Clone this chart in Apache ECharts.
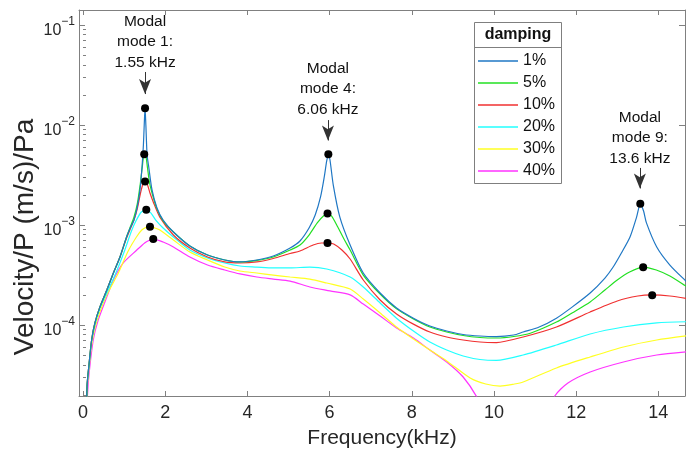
<!DOCTYPE html>
<html>
<head>
<meta charset="utf-8">
<script src="https://cdn.jsdelivr.net/npm/echarts@6/dist/echarts.min.js"></script>
<style>html,body{margin:0;padding:0;background:#fff}#c{width:686px;height:456px}</style>
</head>
<body>
<div id="c"></div>
<script>
// ---------- tick labels / categories ----------
const freqTicks = [0, 2, 4, 6, 8, 10, 12, 14];
const yMajorTicks = [1e-4, 1e-3, 1e-2, 1e-1];
const yMinorTicks = [2e-5,3e-5,4e-5,5e-5,6e-5,7e-5,8e-5,9e-5,
  2e-4,3e-4,4e-4,5e-4,6e-4,7e-4,8e-4,9e-4,
  2e-3,3e-3,4e-3,5e-3,6e-3,7e-3,8e-3,9e-3,
  2e-2,3e-2,4e-2,5e-2,6e-2,7e-2,8e-2,9e-2];
const seriesNames = ['1%', '5%', '10%', '20%', '30%', '40%'];
const seriesColors = ['#1f77c4', '#22e022', '#f03030', '#22ffff', '#ffff22', '#ff33ff'];

// ---------- series values: [frequency kHz, velocity/P] ----------
const damp1 = [[0.08,1.00e-5],[0.10,2.51e-5],[0.15,4.17e-5],[0.21,7.08e-5],[0.29,1.05e-4],[0.41,1.51e-4],[0.58,2.24e-4],[0.74,3.31e-4],[0.90,4.79e-4],[1.06,7.59e-4],[1.16,9.55e-4],[1.24,1.12e-3],[1.32,1.51e-3],[1.39,2.29e-3],[1.44,3.98e-3],[1.47,6.31e-3],[1.49,1.00e-2],[1.51,1.48e-2],[1.53,1.00e-2],[1.56,5.01e-3],[1.60,3.80e-3],[1.68,2.24e-3],[1.80,1.48e-3],[1.95,1.12e-3],[2.20,8.51e-4],[2.60,6.17e-4],[3.03,5.01e-4],[3.45,4.47e-4],[3.82,4.27e-4],[4.23,4.47e-4],[4.63,4.90e-4],[5.04,5.89e-4],[5.28,6.92e-4],[5.50,9.33e-4],[5.65,1.26e-3],[5.78,1.91e-3],[5.87,3.02e-3],[5.93,4.37e-3],[5.97,5.13e-3],[6.01,4.47e-3],[6.09,2.51e-3],[6.25,1.20e-3],[6.50,6.31e-4],[6.82,3.31e-4],[7.23,2.09e-4],[7.63,1.48e-4],[8.04,1.17e-4],[8.44,9.77e-5],[8.85,8.71e-5],[9.25,8.04e-5],[9.66,7.76e-5],[10.06,7.67e-5],[10.48,7.94e-5],[10.71,8.51e-5],[11.10,9.55e-5],[11.52,1.17e-4],[11.90,1.51e-4],[12.34,2.09e-4],[12.70,2.95e-4],[12.90,3.80e-4],[13.10,5.25e-4],[13.31,7.59e-4],[13.47,1.20e-3],[13.56,1.62e-3],[13.64,1.38e-3],[13.71,1.05e-3],[13.96,6.03e-4],[14.28,3.98e-4],[14.67,2.75e-4],[14.75,2.57e-4]];
const damp5 = [[0.08,1.00e-5],[0.10,2.51e-5],[0.15,4.17e-5],[0.21,7.08e-5],[0.29,1.05e-4],[0.41,1.51e-4],[0.58,2.24e-4],[0.74,3.31e-4],[0.90,4.79e-4],[1.06,7.59e-4],[1.16,9.77e-4],[1.24,1.20e-3],[1.32,1.62e-3],[1.39,2.51e-3],[1.44,3.72e-3],[1.49,5.13e-3],[1.53,4.90e-3],[1.57,3.72e-3],[1.62,2.63e-3],[1.68,2.09e-3],[1.80,1.45e-3],[1.95,1.10e-3],[2.20,8.51e-4],[2.60,6.17e-4],[3.03,5.01e-4],[3.45,4.47e-4],[3.82,4.27e-4],[4.23,4.42e-4],[4.63,4.79e-4],[5.04,5.62e-4],[5.28,6.31e-4],[5.50,7.94e-4],[5.70,1.05e-3],[5.85,1.23e-3],[5.95,1.29e-3],[6.05,1.23e-3],[6.20,9.55e-4],[6.35,7.24e-4],[6.50,5.62e-4],[6.82,3.16e-4],[7.23,2.04e-4],[7.63,1.45e-4],[8.04,1.15e-4],[8.44,9.55e-5],[8.85,8.51e-5],[9.25,7.85e-5],[9.66,7.50e-5],[10.06,7.41e-5],[10.48,7.67e-5],[10.90,8.32e-5],[11.52,1.07e-4],[11.90,1.32e-4],[12.34,1.70e-4],[12.70,2.24e-4],[13.00,2.82e-4],[13.30,3.39e-4],[13.63,3.80e-4],[13.95,3.55e-4],[14.28,3.09e-4],[14.67,2.45e-4],[14.75,2.34e-4]];
const damp10 = [[0.08,1.00e-5],[0.10,2.51e-5],[0.15,4.17e-5],[0.21,7.08e-5],[0.29,1.05e-4],[0.41,1.51e-4],[0.58,2.24e-4],[0.74,3.31e-4],[0.90,4.79e-4],[1.06,7.41e-4],[1.16,9.33e-4],[1.24,1.12e-3],[1.32,1.45e-3],[1.40,2.09e-3],[1.46,2.57e-3],[1.51,2.75e-3],[1.57,2.51e-3],[1.63,2.09e-3],[1.71,1.70e-3],[1.87,1.20e-3],[2.20,7.94e-4],[2.60,5.89e-4],[3.03,4.79e-4],[3.45,4.27e-4],[3.82,4.17e-4],[4.23,4.27e-4],[4.63,4.62e-4],[5.04,5.19e-4],[5.28,5.50e-4],[5.60,6.31e-4],[5.80,6.61e-4],[5.95,6.61e-4],[6.10,6.46e-4],[6.30,5.62e-4],[6.50,4.57e-4],[6.82,2.82e-4],[7.23,1.78e-4],[7.63,1.29e-4],[8.04,1.02e-4],[8.44,8.51e-5],[8.85,7.59e-5],[9.25,7.08e-5],[9.66,6.76e-5],[10.06,6.68e-5],[10.71,7.59e-5],[11.52,9.55e-5],[12.34,1.35e-4],[13.00,1.74e-4],[13.50,1.95e-4],[13.85,2.00e-4],[14.28,1.95e-4],[14.75,1.82e-4]];
const damp20 = [[0.08,1.00e-5],[0.10,2.40e-5],[0.15,3.98e-5],[0.21,6.76e-5],[0.29,1.00e-4],[0.41,1.45e-4],[0.58,2.09e-4],[0.80,3.31e-4],[1.00,5.37e-4],[1.18,8.71e-4],[1.30,1.12e-3],[1.42,1.35e-3],[1.54,1.41e-3],[1.65,1.32e-3],[1.77,1.12e-3],[1.95,9.33e-4],[2.20,7.59e-4],[2.60,5.62e-4],[3.03,4.68e-4],[3.45,4.17e-4],[3.82,3.89e-4],[4.23,3.80e-4],[4.63,3.72e-4],[5.04,3.72e-4],[5.52,3.80e-4],[5.93,3.63e-4],[6.50,3.02e-4],[6.82,2.40e-4],[7.23,1.66e-4],[7.63,1.17e-4],[8.04,8.71e-5],[8.44,6.76e-5],[8.85,5.62e-5],[9.25,4.90e-5],[9.66,4.52e-5],[10.06,4.42e-5],[10.71,5.01e-5],[11.52,6.31e-5],[12.34,8.13e-5],[13.15,9.55e-5],[13.96,1.05e-4],[14.75,1.08e-4]];
const damp30 = [[0.08,1.00e-5],[0.10,2.24e-5],[0.15,3.80e-5],[0.21,6.31e-5],[0.29,9.33e-5],[0.41,1.35e-4],[0.58,2.00e-4],[0.86,3.31e-4],[1.10,5.50e-4],[1.30,7.59e-4],[1.43,8.91e-4],[1.55,9.55e-4],[1.63,9.66e-4],[1.75,9.33e-4],[1.87,8.91e-4],[2.20,7.08e-4],[2.60,5.37e-4],[3.03,4.47e-4],[3.45,3.80e-4],[3.82,3.47e-4],[4.23,3.31e-4],[4.63,3.16e-4],[5.04,3.02e-4],[5.52,2.88e-4],[5.93,2.63e-4],[6.50,2.29e-4],[6.82,1.82e-4],[7.23,1.32e-4],[7.63,9.55e-5],[8.04,7.24e-5],[8.44,5.62e-5],[8.85,4.37e-5],[9.42,2.95e-5],[9.80,2.57e-5],[10.15,2.45e-5],[10.50,2.57e-5],[10.71,2.69e-5],[11.52,3.72e-5],[12.34,4.79e-5],[13.15,6.03e-5],[13.96,7.08e-5],[14.75,7.85e-5]];
const damp40 = [[0.09,1.00e-5],[0.11,2.00e-5],[0.15,3.31e-5],[0.25,7.08e-5],[0.37,1.12e-4],[0.58,1.91e-4],[0.74,2.82e-4],[0.98,4.17e-4],[1.31,5.62e-4],[1.50,6.61e-4],[1.63,7.08e-4],[1.71,7.24e-4],[1.95,6.76e-4],[2.20,6.03e-4],[2.60,4.79e-4],[3.03,3.98e-4],[3.45,3.55e-4],[3.82,3.24e-4],[4.23,3.02e-4],[4.63,2.88e-4],[5.04,2.75e-4],[5.52,2.40e-4],[6.01,2.19e-4],[6.50,2.00e-4],[6.82,1.62e-4],[7.23,1.23e-4],[7.63,9.33e-5],[8.04,7.41e-5],[8.44,5.62e-5],[8.85,4.27e-5],[9.25,3.02e-5],[9.58,1.91e-5],[9.90,1.00e-5],[11.20,1.00e-5],[11.48,1.95e-5],[11.80,2.63e-5],[12.34,3.39e-5],[13.15,4.27e-5],[13.96,5.01e-5],[14.75,5.43e-5]];
const seriesData = [damp1, damp5, damp10, damp20, damp30, damp40];

// peak markers
const peakDots = [[1.51,1.47e-2],[1.49,5.09e-3],[1.51,2.73e-3],[1.54,1.42e-3],[1.63,9.6e-4],[1.71,7.24e-4],
  [5.97,5.09e-3],[5.95,1.30e-3],[5.95,6.6e-4],[13.56,1.63e-3],[13.63,3.77e-4],[13.85,1.98e-4]];

// annotations
const annoTexts = ['Modal\nmode 1:\n1.55 kHz', 'Modal\nmode 4:\n6.06 kHz', 'Modal\nmode 9:\n13.6 kHz'];
const annoTextAt = [[1.51, 6.76e-2], [5.96, 2.29e-2], [13.55, 7.41e-3]];
const arrowFrom = [[1.51, 3.39e-2], [5.96, 1.12e-2], [13.55, 3.72e-3]];
const arrowTo = [[1.51, 2.04e-2], [5.96, 7.0e-3], [13.55, 2.32e-3]];

const FONT = 'Liberation Sans, Arial, sans-serif';
const AX = '#808080';
const TXT = '#262626';

const chart = echarts.init(document.getElementById('c'), null, {renderer: 'canvas'});

const lineSeries = seriesNames.map((n, i) => ({
  name: n, type: 'line', data: seriesData[i], xAxisIndex: 0, yAxisIndex: 0,
  symbol: 'none', smooth: 0.25, clip: true,
  lineStyle: {color: seriesColors[i], width: 1.2}, itemStyle: {color: seriesColors[i]},
  emphasis: {disabled: true}, z: 2 + (5 - i) * 0.01
}));

const dotSeries = {
  name: 'peaks', type: 'scatter', data: peakDots, xAxisIndex: 0, yAxisIndex: 0,
  symbol: 'circle', symbolSize: 8, itemStyle: {color: '#000', opacity: 1}, z: 5,
  emphasis: {disabled: true},
  markLine: {
    silent: true, symbol: ['none', 'arrow'], symbolSize: [9, 15],
    lineStyle: {color: '#333', width: 1, type: 'solid'},
    itemStyle: {color: '#000'},
    label: {show: false},
    data: arrowFrom.map((p, i) => [{coord: p}, {coord: arrowTo[i]}])
  },
  markPoint: {
    silent: true, symbol: 'circle', symbolSize: 0,
    label: {show: true, position: 'inside', color: '#111', fontSize: 15.5, fontFamily: FONT, lineHeight: 20.5, align: 'center'},
    data: annoTexts.map((t, i) => ({coord: annoTextAt[i], value: t, label: {formatter: t}}))
  }
};

const xMin = -0.097, xMax = 14.648;
const yMin = 1.95e-5, yMax = 0.1413;

const option = {
  animation: false,
  backgroundColor: '#fff',
  grid: {left: 79, right: 1, top: 10, bottom: 60, containLabel: false},
  xAxis: [
    {type: 'value', position: 'bottom', min: xMin, max: xMax,
     axisLine: {show: true, onZero: false, lineStyle: {color: AX, width: 1}},
     axisTick: {show: true, inside: true, length: 5, customValues: freqTicks, lineStyle: {color: AX}},
     axisLabel: {show: true, customValues: freqTicks, fontSize: 18, color: TXT, fontFamily: FONT, margin: 8},
     splitLine: {show: false},
     name: 'Frequency(kHz)', nameLocation: 'middle', nameGap: 32,
     nameTextStyle: {fontSize: 21, color: TXT, fontFamily: FONT}},
    {type: 'value', position: 'top', min: xMin, max: xMax,
     axisLine: {show: true, onZero: false, lineStyle: {color: AX, width: 1}},
     axisTick: {show: true, inside: true, length: 5, customValues: freqTicks, lineStyle: {color: AX}},
     axisLabel: {show: false}, splitLine: {show: false}}
  ],
  yAxis: [
    {type: 'log', logBase: 10, position: 'left', min: yMin, max: yMax,
     axisLine: {show: true, onZero: false, lineStyle: {color: AX, width: 1}},
     axisTick: {show: true, inside: true, length: 6, customValues: yMajorTicks, lineStyle: {color: AX}},
     axisLabel: {show: true, customValues: yMajorTicks, margin: 4, color: TXT, fontFamily: FONT,
       formatter: v => '{b|10}{s|\u2212' + Math.abs(Math.round(Math.log10(v))) + '}',
       rich: {b: {fontSize: 16, lineHeight: 28, verticalAlign: 'bottom', fontFamily: FONT, color: TXT},
              s: {fontSize: 12, verticalAlign: 'top', padding: [5, 0, 0, 0], fontFamily: FONT, color: TXT}}},
     splitLine: {show: false}, minorTick: {show: false}},
    {type: 'log', logBase: 10, position: 'right', min: yMin, max: yMax,
     axisLine: {show: true, onZero: false, lineStyle: {color: AX, width: 1}},
     axisTick: {show: true, inside: true, length: 6, customValues: yMajorTicks, lineStyle: {color: AX}},
     axisLabel: {show: false}, splitLine: {show: false}},
    {type: 'log', logBase: 10, position: 'left', min: yMin, max: yMax,
     axisLine: {show: false},
     axisTick: {show: true, inside: true, length: 3, customValues: yMinorTicks, lineStyle: {color: AX}},
     axisLabel: {show: false}, splitLine: {show: false}}
  ],
  legend: {
    data: seriesNames, orient: 'vertical', left: 478, top: 53, padding: 0,
    icon: 'rect', itemWidth: 40, itemHeight: 1.5, itemGap: 6,
    textStyle: {fontSize: 16, color: '#111', fontFamily: FONT},
    selectedMode: false, z: 10
  },
  graphic: [
    {type: 'rect', shape: {x: 474.5, y: 22.5, width: 87, height: 161}, style: {fill: '#fff', stroke: '#7f7f7f', lineWidth: 1}, z: 5},
    {type: 'line', shape: {x1: 474.5, y1: 47.5, x2: 561.5, y2: 47.5}, style: {stroke: '#7f7f7f', lineWidth: 1}, z: 6},
    {type: 'text', x: 518, y: 35, style: {text: 'damping', fontSize: 16, fontWeight: 'bold', fontFamily: FONT, fill: '#111', align: 'center', verticalAlign: 'middle'}, z: 6},
    {type: 'text', x: 25, y: 237, rotation: Math.PI / 2, style: {text: 'Velocity/P (m/s)/Pa', fontSize: 28, fontFamily: FONT, fill: TXT, align: 'center', verticalAlign: 'middle'}, z: 6}
  ],
  series: lineSeries.concat([dotSeries])
};
chart.setOption(option);
</script>
</body>
</html>
